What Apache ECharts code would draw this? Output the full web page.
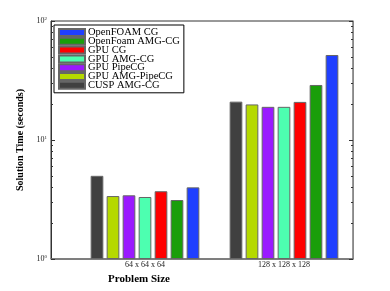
<!DOCTYPE html>
<html><head><meta charset="utf-8">
<script src="https://cdn.jsdelivr.net/npm/echarts@6/dist/echarts.min.js"></script>
<style>html,body{margin:0;padding:0;background:#fff}#c{width:390px;height:291px}</style>
</head><body><div id="c"></div>
<script>
const categories = ['64 x 64 x 64', '128 x 128 x 128'];
const seriesNames = ['CUSP AMG-CG', 'GPU AMG-PipeCG', 'GPU PipeCG', 'GPU AMG-CG', 'GPU CG', 'OpenFoam AMG-CG', 'OpenFOAM CG'];
const cuspAmgCg = [5.0, 21.0];
const gpuAmgPipeCg = [3.38, 19.9];
const gpuPipeCg = [3.43, 19.0];
const gpuAmgCg = [3.32, 19.0];
const gpuCg = [3.71, 20.9];
const openFoamAmgCg = [3.13, 29.0];
const openFoamCg = [4.0, 51.8];
const legendOrder = ['OpenFOAM CG', 'OpenFoam AMG-CG', 'GPU CG', 'GPU AMG-CG', 'GPU PipeCG', 'GPU AMG-PipeCG', 'CUSP AMG-CG'];
const majorTicks = [1, 10, 100];
const minorTicks = [2,3,4,5,6,7,8,9,20,30,40,50,60,70,80,90];

const seriesValues = [cuspAmgCg, gpuAmgPipeCg, gpuPipeCg, gpuAmgCg, gpuCg, openFoamAmgCg, openFoamCg];
const colors = ['#404040', '#b5d900', '#9a1aff', '#4dffb0', '#ff0000', '#1a9e0a', '#1f3fff'];

const serif = 'Liberation Serif';
const chart = echarts.init(document.getElementById('c'));
const logAxisBase = {
  type: 'log', min: 1, max: 100, logBase: 10
};
chart.setOption({
  animation: false,
  grid: [
    {left: 51, top: 21, width: 302, height: 238, show: true, borderColor: '#333', borderWidth: 1, backgroundColor: 'transparent'},
    {left: 75.5, top: 21, width: 278, height: 238}
  ],
  xAxis: [
    {gridIndex: 0, type: 'value', min: 0, max: 1, show: true,
     axisLine: {show: true, onZero: false, lineStyle: {color: '#777', width: 1.5}},
     axisTick: {show: false}, axisLabel: {show: false}, splitLine: {show: false}},
    {gridIndex: 1, type: 'category', data: categories,
     axisLine: {show: false}, axisTick: {show: false},
     axisLabel: {fontFamily: serif, fontSize: 8, color: '#222', margin: 2},
     name: 'Problem Size', nameLocation: 'middle', nameGap: 7,
     nameTextStyle: {fontFamily: serif, fontSize: 11, fontWeight: 'bold', color: '#000', padding: [0, 0, 0, -151]}}
  ],
  yAxis: [
    Object.assign({}, logAxisBase, {gridIndex: 0, position: 'left',
      axisLine: {show: true, lineStyle: {color: '#333'}},
      axisTick: {show: true, inside: true, length: 4, lineStyle: {color: '#333'}, customValues: majorTicks},
      axisLabel: {show: true, customValues: majorTicks, margin: 4,
        formatter: v => '10{s|' + Math.round(Math.log10(v)) + '}',
        rich: {s: {fontSize: 5, fontFamily: serif, verticalAlign: 'top', padding: [0,0,5,0], color: '#222'}},
        fontFamily: serif, fontSize: 8, color: '#222'},
      splitLine: {show: false},
      name: 'Solution Time (seconds)', nameLocation: 'middle', nameGap: 16,
      nameTextStyle: {fontFamily: serif, fontSize: 10, fontWeight: 'bold', color: '#000'}}),
    Object.assign({}, logAxisBase, {gridIndex: 0, position: 'left',
      axisLine: {show: false},
      axisTick: {show: true, inside: true, length: 2, lineStyle: {color: '#333'}, customValues: minorTicks},
      axisLabel: {show: false}, splitLine: {show: false}}),
    Object.assign({}, logAxisBase, {gridIndex: 0, position: 'right',
      axisLine: {show: true, lineStyle: {color: '#888'}},
      axisTick: {show: true, inside: true, length: 4, lineStyle: {color: '#333'}, customValues: majorTicks},
      axisLabel: {show: false}, splitLine: {show: false}}),
    Object.assign({}, logAxisBase, {gridIndex: 0, position: 'right',
      axisLine: {show: false},
      axisTick: {show: true, inside: true, length: 2, lineStyle: {color: '#333'}, customValues: minorTicks},
      axisLabel: {show: false}, splitLine: {show: false}}),
    Object.assign({}, logAxisBase, {gridIndex: 1, show: false})
  ],
  legend: {
    data: legendOrder, orient: 'vertical', left: 54, top: 25,
    itemWidth: 26, itemHeight: 7, itemGap: -2.2,
    padding: [2, 4, 2, 4], borderColor: '#000', borderWidth: 1, backgroundColor: '#fff',
    textStyle: {fontFamily: serif, fontSize: 10.5, color: '#000', padding: [0,0,0,-2]},
    icon: 'rect', z: 10
  },
  series: seriesNames.map((n, i) => ({
    name: n, type: 'bar', xAxisIndex: 1, yAxisIndex: 4,
    data: seriesValues[i], barWidth: 12.7, barGap: '26%',
    itemStyle: {color: colors[i], borderColor: '#666', borderWidth: 1}
  }))
});
</script></body></html>
